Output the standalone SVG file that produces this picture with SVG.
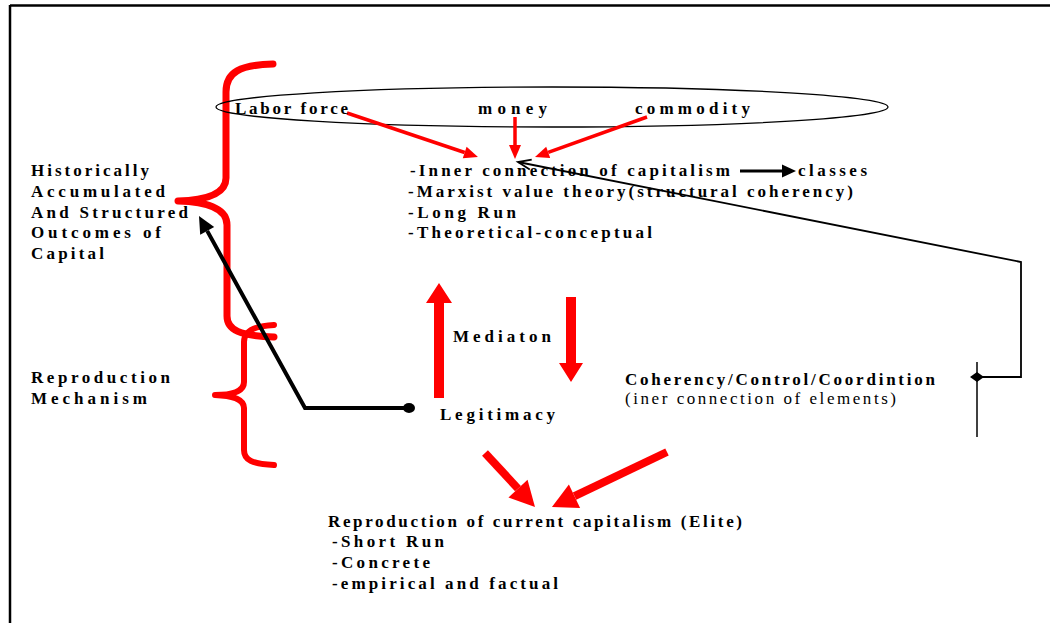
<svg xmlns="http://www.w3.org/2000/svg" width="1050" height="623" viewBox="0 0 1050 623">
<defs>
<style>
.t{font-family:"Liberation Serif","Times New Roman",serif;font-size:17px;font-weight:bold;fill:#000}
.n{font-family:"Liberation Serif","Times New Roman",serif;font-size:17px;font-weight:normal;fill:#000}
.brace{fill:none;stroke:#ff0000;stroke-linecap:round;stroke-linejoin:round}
.redthin{fill:none;stroke:#ff0000;stroke-width:3.5}
.redthick{fill:none;stroke:#ff0000;stroke-width:8}
</style>
<marker id="rh" markerUnits="userSpaceOnUse" markerWidth="14" markerHeight="12" refX="0" refY="6" orient="auto" overflow="visible">
<path d="M0,0 L14,6 L0,12 z" fill="#ff0000"/>
</marker>
<marker id="rhb" markerUnits="userSpaceOnUse" markerWidth="25" markerHeight="26" refX="0" refY="13" orient="auto" overflow="visible">
<path d="M0,0 L25,13 L0,26 z" fill="#ff0000"/>
</marker>
<marker id="bh" markerUnits="userSpaceOnUse" markerWidth="14" markerHeight="13" refX="0" refY="6.5" orient="auto" overflow="visible">
<path d="M0,0 L14,6.5 L0,13 z" fill="#000"/>
</marker>
<marker id="bhl" markerUnits="userSpaceOnUse" markerWidth="17" markerHeight="16" refX="0" refY="8" orient="auto" overflow="visible">
<path d="M0,0 L17,8 L0,16 z" fill="#000"/>
</marker>
<marker id="bo" markerUnits="userSpaceOnUse" markerWidth="14" markerHeight="12" refX="0" refY="0" orient="auto" overflow="visible">
<path d="M-13,-5 L0,0 L-13,5" fill="none" stroke="#000" stroke-width="1.8"/>
</marker>
</defs>
<rect width="1050" height="623" fill="#fff"/>
<g id="frame" stroke="#000" stroke-width="2.5" fill="none">
<line x1="10" y1="5.5" x2="1050" y2="5.5"/>
<line x1="10" y1="5" x2="10" y2="623"/>
</g>
<g id="brace-historical">
<path class="brace" stroke-width="7" d="M273,64 C240,65 226,72 226,92 L226,178 C226,192 212,200 178,201 C212,202 227,210 227,225 L227,316 C227,330 240,336 274,337"/>
</g>
<g id="brace-reproduction">
<path class="brace" stroke-width="6" d="M274,325 C252,326 244,332 244,342 L244,382 C244,390 236,395 215,395 C236,396 244,400 244,408 L244,450 C244,460 252,464 274,465"/>
</g>
<g id="ellipse-node">
<ellipse cx="552" cy="107" rx="336" ry="20" fill="none" stroke="#000" stroke-width="1.3"/>
</g>
<g id="connectors">
<line class="redthin" x1="347" y1="113" x2="464.7" y2="152.5" marker-end="url(#rh)"/>
<line class="redthin" x1="515" y1="117" x2="515" y2="145" marker-end="url(#rh)"/>
<line class="redthin" x1="647" y1="117" x2="548.2" y2="152.3" marker-end="url(#rh)"/>
<line x1="740" y1="171" x2="782" y2="171" stroke="#000" stroke-width="3" marker-end="url(#bh)"/>
<polyline points="977,377 1021,377 1021,262 518,162" fill="none" stroke="#000" stroke-width="1.8" marker-end="url(#bo)"/>
<polygon points="970,377 977,372 984,377 977,382" fill="#000"/>
<line x1="977" y1="362" x2="977" y2="437" stroke="#000" stroke-width="1.5"/>
<polyline points="409,408 305,408 207.2,230.9" fill="none" stroke="#000" stroke-width="4" stroke-linejoin="miter" marker-end="url(#bhl)"/>
<ellipse cx="409" cy="408" rx="6" ry="5" fill="#000"/>
<polygon points="434,398 444,398 444,303 452,303 439,283 426,303 434,303" fill="#ff0000"/>
<polygon points="566,297 576,297 576,363 583,363 571,382 559,363 566,363" fill="#ff0000"/>
<line class="redthick" x1="485" y1="453" x2="518" y2="488.6" marker-end="url(#rhb)"/>
<line class="redthick" x1="667" y1="452" x2="574.5" y2="496.2" marker-end="url(#rhb)"/>
</g>
<g id="labor-force"><text class="t" x="235" y="114" textLength="113" lengthAdjust="spacing">Labor force</text></g>
<g id="money"><text class="t" x="478" y="114" textLength="69" lengthAdjust="spacing">money</text></g>
<g id="commodity"><text class="t" x="635" y="114" textLength="115" lengthAdjust="spacing">commodity</text></g>
<g id="inner-connection">
<text class="t" x="410" y="176" textLength="320" lengthAdjust="spacing">-Inner connection of capitalism</text>
<text class="t" x="408" y="197" textLength="445" lengthAdjust="spacing">-Marxist value theory(structural coherency)</text>
<text class="t" x="408" y="218" textLength="108" lengthAdjust="spacing">-Long Run</text>
<text class="t" x="408" y="238" textLength="244" lengthAdjust="spacing">-Theoretical-conceptual</text>
</g>
<g id="classes"><text class="t" x="798" y="176" textLength="69" lengthAdjust="spacing">classes</text></g>
<g id="historically">
<text class="t" x="31" y="176" textLength="118" lengthAdjust="spacing">Historically</text>
<text class="t" x="31" y="197" textLength="134" lengthAdjust="spacing">Accumulated</text>
<text class="t" x="31" y="218" textLength="157" lengthAdjust="spacing">And Structured</text>
<text class="t" x="31" y="238" textLength="130" lengthAdjust="spacing">Outcomes of</text>
<text class="t" x="31" y="259" textLength="73" lengthAdjust="spacing">Capital</text>
</g>
<g id="reproduction-mechanism">
<text class="t" x="31" y="383" textLength="139" lengthAdjust="spacing">Reproduction</text>
<text class="t" x="31" y="404" textLength="116" lengthAdjust="spacing">Mechanism</text>
</g>
<g id="mediaton"><text class="t" x="453" y="342" textLength="98" lengthAdjust="spacing">Mediaton</text></g>
<g id="legitimacy"><text class="t" x="440" y="420" textLength="115" lengthAdjust="spacing">Legitimacy</text></g>
<g id="coherency">
<text class="t" x="625" y="385" textLength="310" lengthAdjust="spacing">Coherency/Control/Coordintion</text>
<text class="n" x="625" y="404" textLength="271" lengthAdjust="spacing">(iner connection of  elements)</text>
</g>
<g id="reproduction-current">
<text class="t" x="328" y="527" textLength="414" lengthAdjust="spacing">Reproduction of current capitalism (Elite)</text>
<text class="t" x="332" y="547" textLength="112" lengthAdjust="spacing">-Short Run</text>
<text class="t" x="332" y="568" textLength="98" lengthAdjust="spacing">-Concrete</text>
<text class="t" x="332" y="589" textLength="226" lengthAdjust="spacing">-empirical and factual</text>
</g>
</svg>
